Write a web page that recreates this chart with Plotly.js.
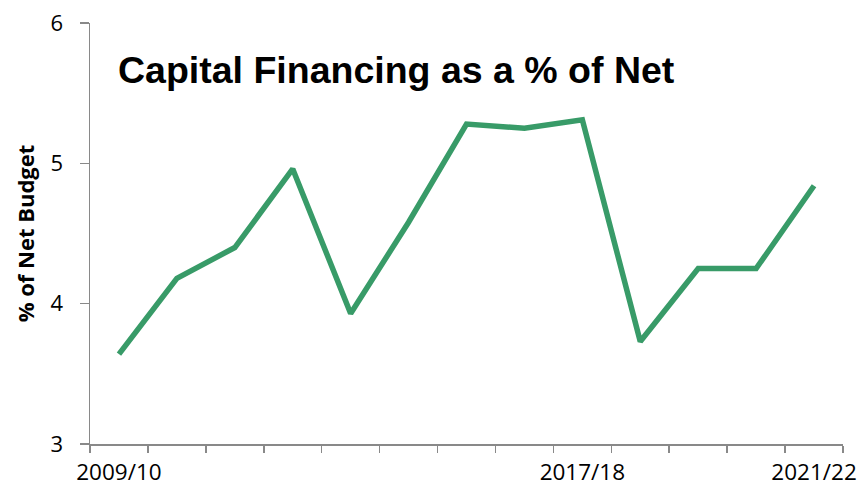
<!DOCTYPE html>
<html>
<head>
<meta charset="utf-8">
<script src="https://cdn.plot.ly/plotly-3.0.1.min.js"></script>
<style>html,body{margin:0;padding:0;background:#fff;}#chart{width:863px;height:489px;}</style>
</head>
<body>
<div id="chart"></div>
<script>
const categories = ["2009/10","2010/11","2011/12","2012/13","2013/14","2014/15","2015/16","2016/17","2017/18","2018/19","2019/20","2020/21","2021/22"];
const values = [3.64, 4.18, 4.40, 4.96, 3.93, 4.58, 5.28, 5.25, 5.31, 3.73, 4.25, 4.25, 4.84];
const shownLabels = ["2009/10","","","","","","","","2017/18","","","","2021/22"];
const yTicks = [3, 4, 5, 6];

const trace = {
  x: categories,
  y: values,
  type: "scatter",
  mode: "lines",
  line: {color: "rgb(56,155,104)", width: 5.5},
  hoverinfo: "x+y"
};

const axisColor = "#898989";

const layout = {
  width: 863,
  height: 489,
  margin: {l: 90, r: 20, t: 23, b: 45},
  paper_bgcolor: "#fff",
  plot_bgcolor: "#fff",
  showlegend: false,
  xaxis: {
    type: "category",
    categoryorder: "array",
    categoryarray: categories,
    tickmode: "array",
    tickvals: categories,
    ticktext: shownLabels,
    tickson: "boundaries",
    tickangle: 0,
    ticks: "outside",
    ticklen: 7,
    tickwidth: 1.5,
    tickcolor: axisColor,
    showline: true,
    linecolor: axisColor,
    linewidth: 1.5,
    showgrid: false,
    zeroline: false,
    tickfont: {family: "Open Sans, sans-serif", size: 22.5, color: "#000"},
    ticklabelstandoff: 7,
    range: [-0.5, 12.5]
  },
  yaxis: {
    range: [3, 6],
    tickmode: "array",
    tickvals: yTicks,
    ticktext: yTicks.map(String),
    ticks: "outside",
    ticklen: 9,
    tickwidth: 1.5,
    tickcolor: axisColor,
    showline: true,
    linecolor: axisColor,
    linewidth: 1.5,
    showgrid: false,
    zeroline: false,
    tickfont: {family: "Open Sans, sans-serif", size: 22, color: "#000"},
    ticklabelstandoff: 12,
    title: {
      text: "% of Net Budget",
      font: {family: "Open Sans, sans-serif", size: 22, color: "#000", weight: "bold"},
      standoff: 10
    }
  },
  annotations: [{
    text: "<b>Capital Financing as a % of Net</b>",
    xref: "paper", yref: "paper",
    x: (116 - 90) / 753, y: 1 - (70 - 23) / 421,
    xanchor: "left", yanchor: "middle",
    showarrow: false,
    font: {family: "Liberation Sans, Arial, sans-serif", size: 37.5, color: "#000"}
  }]
};

Plotly.newPlot("chart", [trace], layout, {displayModeBar: false, staticPlot: true});
</script>
</body>
</html>
